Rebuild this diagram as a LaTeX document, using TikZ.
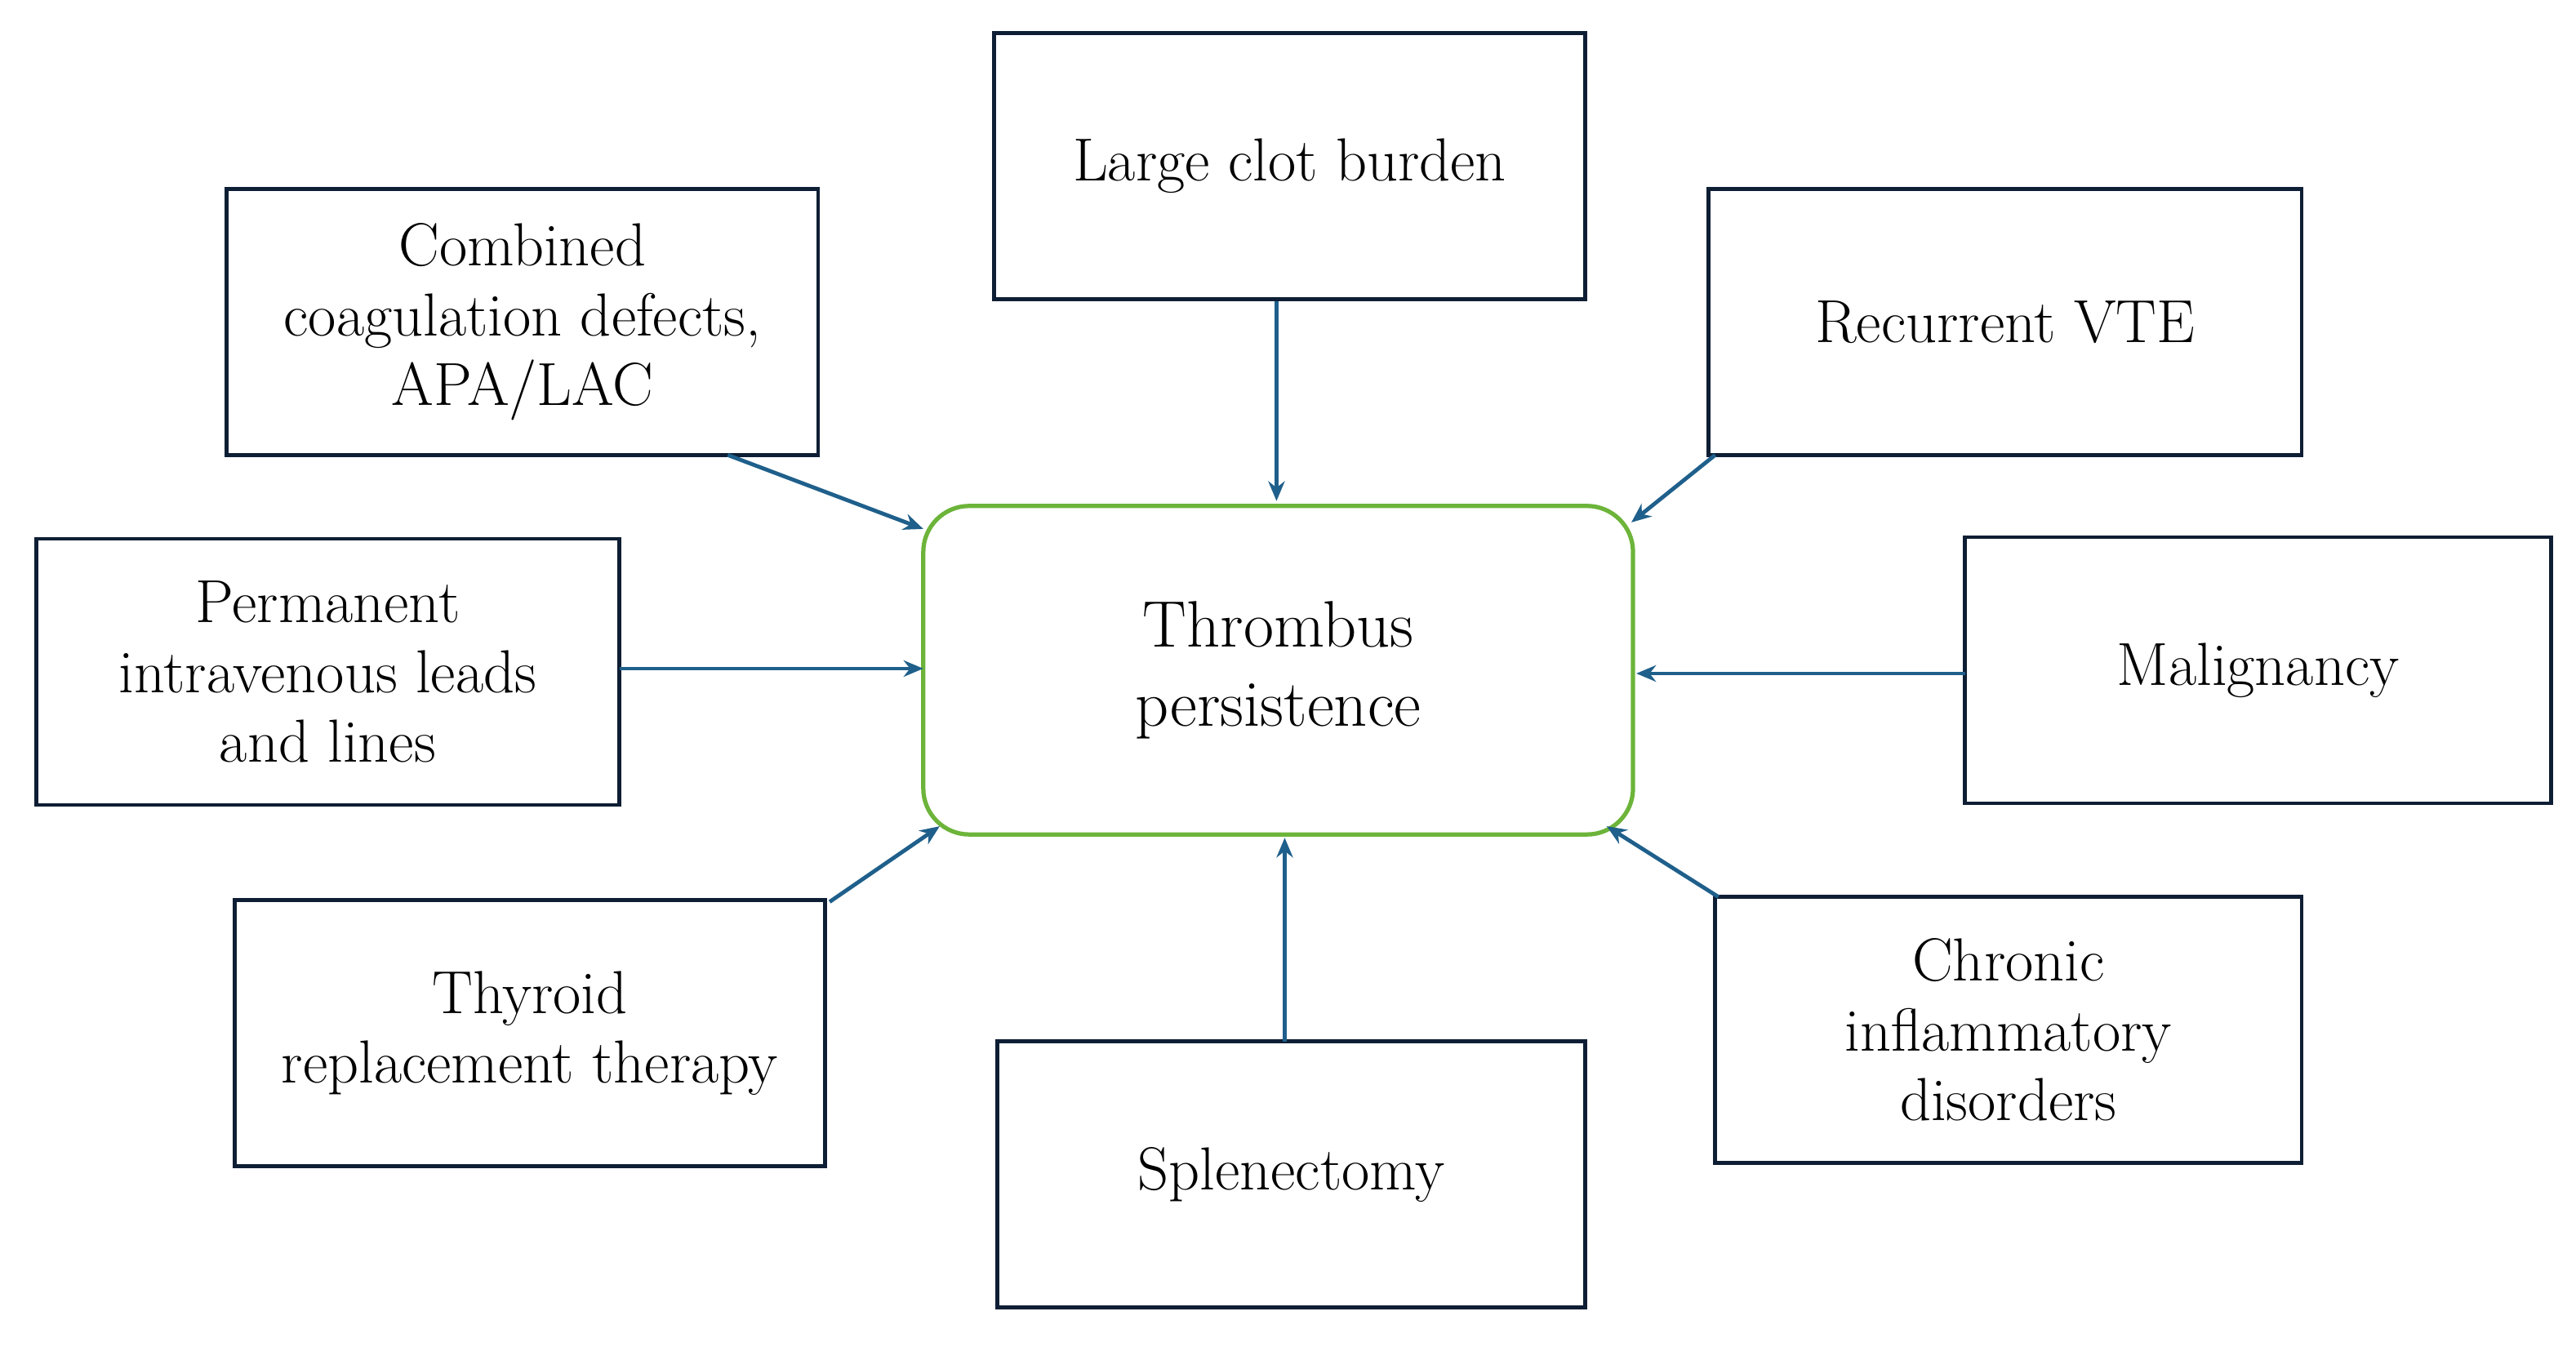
\documentclass[tikz,border=0pt]{standalone}
\usetikzlibrary{arrows.meta}
\begin{document}
\begin{tikzpicture}[x=1pt,y=-1pt,
  box/.style={draw={rgb,255:red,14;green,30;blue,52}, line width=2.4pt, align=center, inner sep=0pt, font=\fontsize{37}{42.5}\selectfont},
  arr/.style={draw={rgb,255:red,31;green,95;blue,139}, line width=2.4pt, -{Stealth[length=12pt,width=10pt]}}]
\useasboundingbox (0,0) rectangle (1568,820);
\newcommand{\bx}[6]{\node[box, minimum width=#4-#2, minimum height=#5-#3] (#1) at ({(#2+#4)/2},{(#3+#5)/2}) {#6};}
\bx{lcb}{605}{20}{965}{182}{Large clot burden}
\bx{comb}{138}{115}{498}{277}{Combined\\coagulation defects,\\APA/LAC}
\bx{rec}{1040}{115}{1401}{277}{Recurrent VTE}
\bx{perm}{22}{328}{377}{490}{Permanent\\intravenous leads\\and lines}
\bx{mal}{1196}{327}{1553}{489}{Malignancy}
\bx{thy}{143}{548}{502}{710}{Thyroid\\replacement therapy}
\bx{spl}{607}{634}{965}{796}{Splenectomy}
\bx{chr}{1044}{546}{1401}{708}{Chronic\\inflammatory\\disorders}
\node[draw={rgb,255:red,108;green,180;blue,58}, line width=2.6pt, rounded corners=28pt, minimum width=432, minimum height=200, align=center, font=\fontsize{40}{48}\selectfont] (c) at (778,408) {Thrombus\\persistence};
\coordinate (a1) at (777,305);
\coordinate (s2) at (443,277); \coordinate (a2) at (562,322);
\coordinate (s3) at (1044,277); \coordinate (a3) at (993,318);
\coordinate (s4) at (377,407); \coordinate (a4) at (562,407);
\coordinate (s5) at (1196,410); \coordinate (a5) at (996,410);
\coordinate (s6) at (505,549); \coordinate (a6) at (572,503);
\coordinate (s7) at (782,634); \coordinate (a7) at (782,510);
\coordinate (s8) at (1046,546); \coordinate (a8) at (978,503);
\draw[arr] (lcb.south -| a1) -- (a1);
\draw[arr] (s2) -- (a2);
\draw[arr] (s3) -- (a3);
\draw[arr] (s4) -- (a4);
\draw[arr] (s5) -- (a5);
\draw[arr] (s6) -- (a6);
\draw[arr] (s7) -- (a7);
\draw[arr] (s8) -- (a8);
\end{tikzpicture}
\end{document}
